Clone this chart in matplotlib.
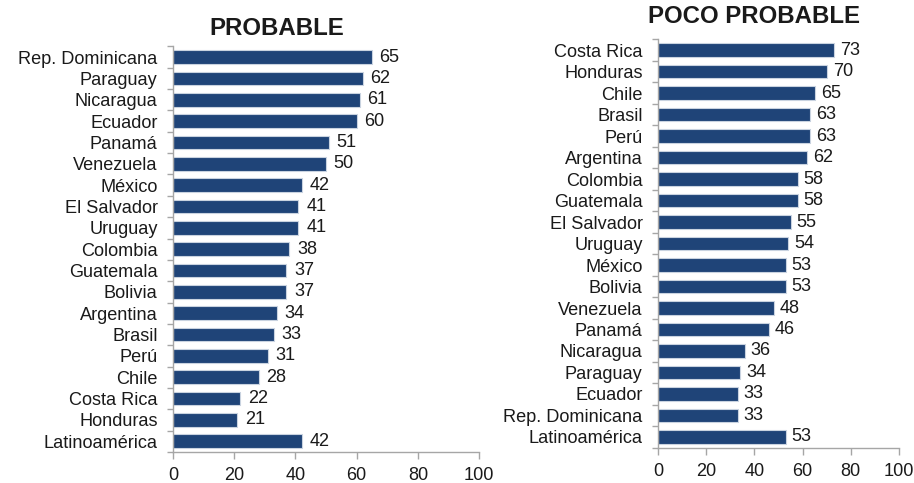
import numpy as np
import matplotlib
matplotlib.use("Agg")
import matplotlib.pyplot as plt

plt.rcParams['font.family'] = ['Liberation Sans', 'DejaVu Sans']

# datos: probable
prob_paises = ["Rep. Dominicana", "Paraguay", "Nicaragua", "Ecuador", "Panamá",
               "Venezuela", "México", "El Salvador", "Uruguay", "Colombia",
               "Guatemala", "Bolivia", "Argentina", "Brasil", "Perú", "Chile",
               "Costa Rica", "Honduras", "Latinoamérica"]
prob_valores = [65, 62, 61, 60, 51, 50, 42, 41, 41, 38, 37, 37, 34, 33, 31, 28, 22, 21, 42]

# datos: poco probable
poco_paises = ["Costa Rica", "Honduras", "Chile", "Brasil", "Perú", "Argentina",
               "Colombia", "Guatemala", "El Salvador", "Uruguay", "México",
               "Bolivia", "Venezuela", "Panamá", "Nicaragua", "Paraguay",
               "Ecuador", "Rep. Dominicana", "Latinoamérica"]
poco_valores = [73, 70, 65, 63, 63, 62, 58, 58, 55, 54, 53, 53, 48, 46, 36, 34, 33, 33, 53]

x_ticks = [0, 20, 40, 60, 80, 100]

BAR_COLOR = "#1F4478"
TEXT_COLOR = "#1a1a1a"
SPINE_COLOR = "#a6a6a6"
FS = 13.1


def draw_panel(ax, paises, valores, xpad):
    n = len(paises)
    y = np.arange(n)
    ax.barh(y, valores, height=0.64, color=BAR_COLOR, edgecolor="#c9d3e0", linewidth=0.8)
    for yi, v in zip(y, valores):
        ax.text(v + 2.5, yi, str(v), va="center", ha="left", fontsize=FS, color=TEXT_COLOR)
    ax.set_ylim(n - 0.5, -0.5)
    ax.set_xlim(0, 100)
    ax.set_yticks(y)
    ax.set_yticklabels(paises, fontsize=FS, color=TEXT_COLOR)
    ax.tick_params(axis="y", length=0, pad=11)
    # marcas entre categorias
    ax.set_yticks(np.arange(n + 1) - 0.5, minor=True)
    ax.tick_params(axis="y", which="minor", length=4, color=SPINE_COLOR, width=1)
    ax.set_xticks(x_ticks)
    ax.set_xticklabels([str(t) for t in x_ticks], fontsize=FS, color=TEXT_COLOR)
    ax.tick_params(axis="x", length=5, color=SPINE_COLOR, width=1, pad=xpad)
    ax.spines["top"].set_visible(False)
    ax.spines["right"].set_visible(False)
    ax.spines["left"].set_color(SPINE_COLOR)
    ax.spines["bottom"].set_color(SPINE_COLOR)
    ax.spines["left"].set_linewidth(1)
    ax.spines["bottom"].set_linewidth(1)


fig = plt.figure(figsize=(9.14, 4.83), dpi=100)

ax1 = fig.add_axes([0.1893, 0.0642, 0.3348, 0.8398])
draw_panel(ax1, prob_paises, prob_valores, 5.5)
fig.text(0.303, 0.942, "PROBABLE", ha="center", va="center",
         fontsize=17.3, fontweight="bold", color=TEXT_COLOR)

ax2 = fig.add_axes([0.7199, 0.0730, 0.2637, 0.8457])
draw_panel(ax2, poco_paises, poco_valores, 6)
fig.text(0.825, 0.965, "POCO PROBABLE", ha="center", va="center",
         fontsize=17.3, fontweight="bold", color=TEXT_COLOR)

fig.savefig("out.png", dpi=100)
